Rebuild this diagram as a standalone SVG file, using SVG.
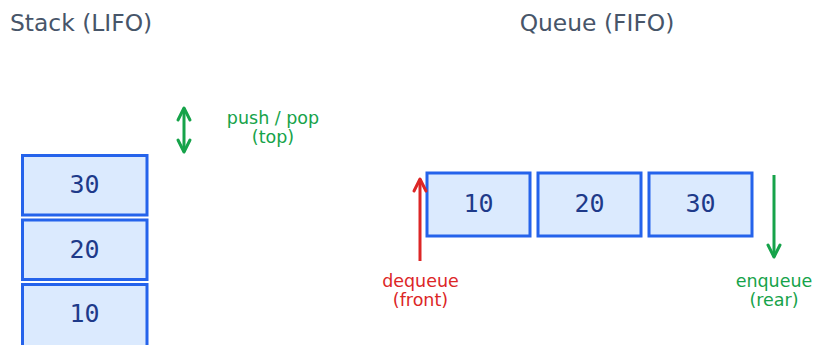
<svg xmlns="http://www.w3.org/2000/svg" width="814" height="345" viewBox="0 0 814 345">
  <style>
    .title { font-family: "DejaVu Sans", sans-serif; font-size: 23.4px; fill: #475569; }
    .box { fill: #dbeafe; stroke: #2563eb; stroke-width: 3; }
    .val { font-family: "DejaVu Sans Mono", monospace; font-size: 25px; fill: #1e3a8a; text-anchor: middle; }
    .lbl { font-family: "DejaVu Sans", sans-serif; font-size: 17.5px; text-anchor: middle; }
    .green { fill: #16a34a; }
    .red { fill: #dc2626; }
    .arrow { fill: none; stroke-width: 3; }
  </style>
  <defs>
    <marker id="mGreen" markerUnits="userSpaceOnUse" markerWidth="20" markerHeight="20" viewBox="-16 -10 20 20" refX="0" refY="0" orient="auto-start-reverse">
      <path d="M-12,-6 L0,0 L-12,6" fill="none" stroke="#16a34a" stroke-width="3" stroke-linecap="round" stroke-linejoin="round"/>
    </marker>
    <marker id="mRed" markerUnits="userSpaceOnUse" markerWidth="20" markerHeight="20" viewBox="-16 -10 20 20" refX="0" refY="0" orient="auto-start-reverse">
      <path d="M-12,-6 L0,0 L-12,6" fill="none" stroke="#dc2626" stroke-width="3" stroke-linecap="round" stroke-linejoin="round"/>
    </marker>
  </defs>

  <text class="title" x="10" y="31">Stack (LIFO)</text>
  <text class="title" x="597" y="31" text-anchor="middle">Queue (FIFO)</text>

  <g id="stack-30">
    <rect class="box" x="22.5" y="155.5" width="124.5" height="59.5"/>
    <text class="val" x="84.5" y="193">30</text>
  </g>
  <g id="stack-20">
    <rect class="box" x="22.5" y="220" width="124.5" height="59.5"/>
    <text class="val" x="84.5" y="257.5">20</text>
  </g>
  <g id="stack-10">
    <rect class="box" x="22.5" y="284.5" width="124.5" height="64"/>
    <text class="val" x="84.5" y="322">10</text>
  </g>

  <g id="queue-10">
    <rect class="box" x="427" y="173" width="103" height="63"/>
    <text class="val" x="478.5" y="212">10</text>
  </g>
  <g id="queue-20">
    <rect class="box" x="538" y="173" width="103" height="63"/>
    <text class="val" x="589.5" y="212">20</text>
  </g>
  <g id="queue-30">
    <rect class="box" x="649" y="173" width="103" height="63"/>
    <text class="val" x="700.5" y="212">30</text>
  </g>

  <g id="connectors">
    <line class="arrow" x1="184" y1="108" x2="184" y2="152" stroke="#16a34a" marker-start="url(#mGreen)" marker-end="url(#mGreen)"/>
    <line class="arrow" x1="420" y1="261" x2="420" y2="179" stroke="#dc2626" marker-end="url(#mRed)"/>
    <line class="arrow" x1="774" y1="175" x2="774" y2="257" stroke="#16a34a" marker-end="url(#mGreen)"/>
  </g>

  <g id="labels">
    <text class="lbl green" x="273" y="124">push / pop</text>
    <text class="lbl green" x="273" y="143">(top)</text>
    <text class="lbl red" x="420.5" y="287">dequeue</text>
    <text class="lbl red" x="420.5" y="306">(front)</text>
    <text class="lbl green" x="774" y="287">enqueue</text>
    <text class="lbl green" x="774" y="306">(rear)</text>
  </g>
</svg>
